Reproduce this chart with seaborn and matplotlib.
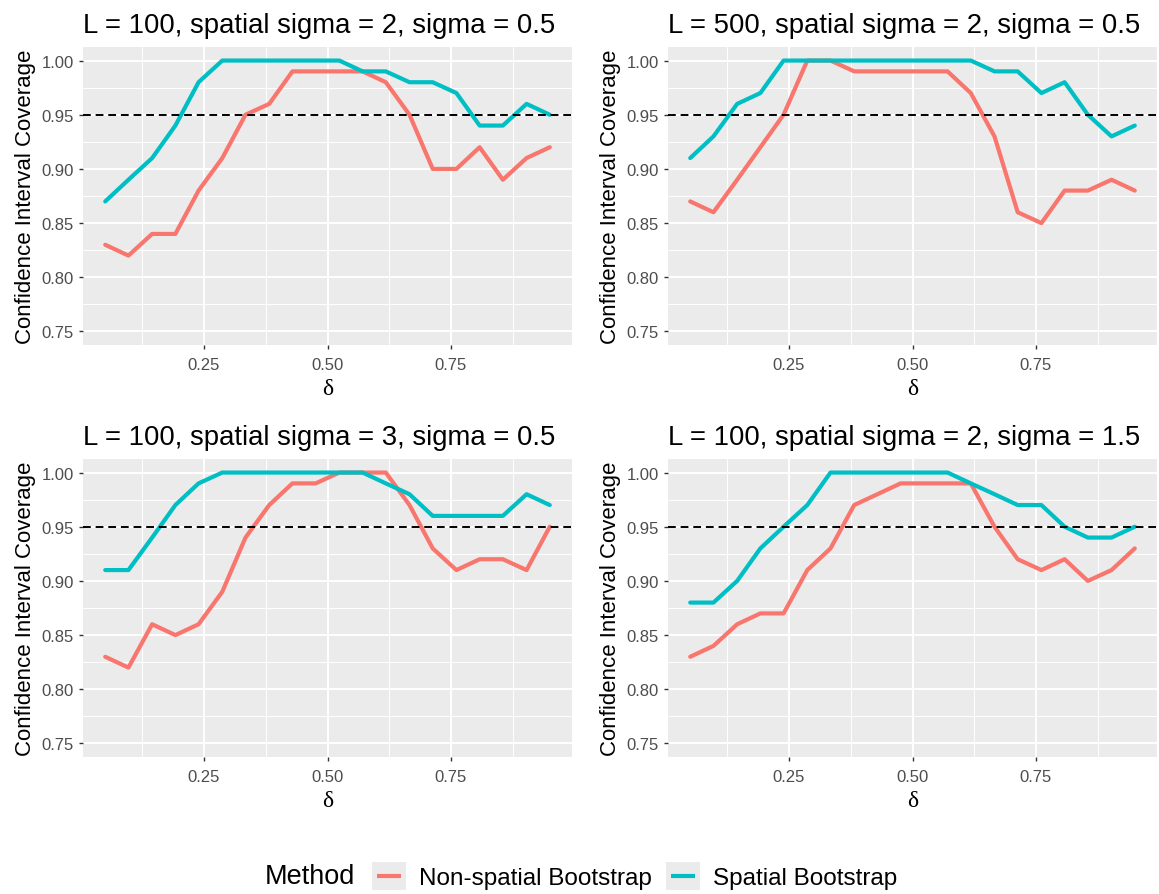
import numpy as np
import pandas as pd
import seaborn as sns
import matplotlib.pyplot as plt
from matplotlib.lines import Line2D
from matplotlib.patches import Rectangle
from matplotlib.ticker import FixedLocator

# delta grid (20 values between 0.05 and 0.95)
delta = [0.05, 0.097, 0.145, 0.192, 0.239, 0.287, 0.334, 0.382, 0.429, 0.476,
         0.524, 0.571, 0.618, 0.666, 0.713, 0.761, 0.808, 0.855, 0.903, 0.95]

titles = [
    "L = 100, spatial sigma = 2, sigma = 0.5",
    "L = 500, spatial sigma = 2, sigma = 0.5",
    "L = 100, spatial sigma = 3, sigma = 0.5",
    "L = 100, spatial sigma = 2, sigma = 1.5",
]
methods = ["Non-spatial Bootstrap", "Spatial Bootstrap"]

# coverage
nonspatial_1 = [0.83, 0.82, 0.84, 0.84, 0.88, 0.91, 0.95, 0.96, 0.99, 0.99,
                0.99, 0.99, 0.98, 0.95, 0.90, 0.90, 0.92, 0.89, 0.91, 0.92]
spatial_1 = [0.87, 0.89, 0.91, 0.94, 0.98, 1.00, 1.00, 1.00, 1.00, 1.00,
             1.00, 0.99, 0.99, 0.98, 0.98, 0.97, 0.94, 0.94, 0.96, 0.95]

nonspatial_2 = [0.87, 0.86, 0.89, 0.92, 0.95, 1.00, 1.00, 0.99, 0.99, 0.99,
                0.99, 0.99, 0.97, 0.93, 0.86, 0.85, 0.88, 0.88, 0.89, 0.88]
spatial_2 = [0.91, 0.93, 0.96, 0.97, 1.00, 1.00, 1.00, 1.00, 1.00, 1.00,
             1.00, 1.00, 1.00, 0.99, 0.99, 0.97, 0.98, 0.95, 0.93, 0.94]

nonspatial_3 = [0.83, 0.82, 0.86, 0.85, 0.86, 0.89, 0.94, 0.97, 0.99, 0.99,
                1.00, 1.00, 1.00, 0.97, 0.93, 0.91, 0.92, 0.92, 0.91, 0.95]
spatial_3 = [0.91, 0.91, 0.94, 0.97, 0.99, 1.00, 1.00, 1.00, 1.00, 1.00,
             1.00, 1.00, 0.99, 0.98, 0.96, 0.96, 0.96, 0.96, 0.98, 0.97]

nonspatial_4 = [0.83, 0.84, 0.86, 0.87, 0.87, 0.91, 0.93, 0.97, 0.98, 0.99,
                0.99, 0.99, 0.99, 0.95, 0.92, 0.91, 0.92, 0.90, 0.91, 0.93]
spatial_4 = [0.88, 0.88, 0.90, 0.93, 0.95, 0.97, 1.00, 1.00, 1.00, 1.00,
             1.00, 1.00, 0.99, 0.98, 0.97, 0.97, 0.95, 0.94, 0.94, 0.95]

series = [(nonspatial_1, spatial_1), (nonspatial_2, spatial_2),
          (nonspatial_3, spatial_3), (nonspatial_4, spatial_4)]

rows = []
for p, (ns, sp) in enumerate(series):
    for m, vals in zip(methods, (ns, sp)):
        for d, v in zip(delta, vals):
            rows.append({"panel": p, "Method": m, "delta": d, "coverage": v})
df = pd.DataFrame(rows)

palette = {"Non-spatial Bootstrap": "#F8766D", "Spatial Bootstrap": "#00BFC4"}

sns.set_style("darkgrid", {"axes.facecolor": "#EBEBEB", "grid.color": "white"})
plt.rcParams["font.family"] = ["Liberation Sans", "DejaVu Sans"]
plt.rcParams["text.color"] = "black"
plt.rcParams["axes.labelcolor"] = "black"

W, H = 1159, 895
fig = plt.figure(figsize=(W / 100, H / 100), dpi=100)

# panel boxes in pixels: left, top, right, bottom
boxes = [(83, 48, 572, 346), (668, 48, 1157, 346),
         (83, 460, 572, 758), (668, 460, 1157, 758)]

for p, (l, t, r, b) in enumerate(boxes):
    ax = fig.add_axes([l / W, 1 - b / H, (r - l) / W, (b - t) / H])
    sub = df[df["panel"] == p]
    sns.lineplot(data=sub, x="delta", y="coverage", hue="Method", palette=palette,
                 linewidth=3, legend=False, ax=ax)
    ax.axhline(0.95, color="black", linestyle=(0, (4, 2.5)), linewidth=1.4, zorder=3)
    ax.set_xlim(0.005, 0.995)
    ax.set_ylim(0.7375, 1.0125)
    ax.xaxis.set_major_locator(FixedLocator([0.25, 0.5, 0.75]))
    ax.xaxis.set_minor_locator(FixedLocator([0.125, 0.375, 0.625, 0.875]))
    ax.yaxis.set_major_locator(FixedLocator([0.75, 0.8, 0.85, 0.9, 0.95, 1.0]))
    ax.yaxis.set_minor_locator(FixedLocator([0.775, 0.825, 0.875, 0.925, 0.975]))
    ax.set_xticklabels(["0.25", "0.50", "0.75"])
    ax.set_yticklabels(["0.75", "0.80", "0.85", "0.90", "0.95", "1.00"])
    ax.grid(which="major", color="white", linewidth=1.4)
    ax.grid(which="minor", color="white", linewidth=0.7)
    ax.tick_params(which="major", length=3, width=1, color="#333333",
                   labelsize=12, labelcolor="#4D4D4D", bottom=True, left=True)
    ax.tick_params(axis="y", pad=3.5)
    ax.tick_params(axis="x", pad=6)
    ax.tick_params(which="minor", length=0)
    for s in ax.spines.values():
        s.set_visible(False)
    ax.set_title(titles[p], fontsize=19.8, pad=11, loc="left")
    ax.set_xlabel("δ", fontsize=17, family=["Liberation Serif", "DejaVu Serif"], labelpad=4)
    ax.set_ylabel("Confidence Interval Coverage", fontsize=16, labelpad=4)


class KeyHandler:
    # grey key square with a short coloured line, as in ggplot legends
    def legend_artist(self, legend, orig_handle, fontsize, handlebox):
        x0, y0 = -handlebox.xdescent, -handlebox.ydescent
        w, h = handlebox.width, handlebox.height
        tr = handlebox.get_transform()
        rect = Rectangle((x0, y0), w, h, facecolor="#EBEBEB", edgecolor="none",
                         transform=tr)
        line = Line2D([x0 + 0.15 * w, x0 + 0.85 * w], [y0 + h / 2, y0 + h / 2],
                      color=orig_handle.get_color(), linewidth=3,
                      solid_capstyle="butt", transform=tr)
        handlebox.add_artist(rect)
        handlebox.add_artist(line)
        return line


# legend at the bottom, title on the left
fig.text(265 / W, 1 - 877 / H, "Method", fontsize=19.5, va="center", ha="left")
handles = [Line2D([], [], color=palette[m]) for m in methods]
fig.legend(handles, methods, loc="center left",
           bbox_to_anchor=(372 / W, 1 - 877 / H), ncol=2, frameon=False,
           fontsize=17.5, handlelength=1.4, handleheight=1.4,
           handletextpad=0.55, columnspacing=0.55, borderpad=0, borderaxespad=0,
           handler_map={h: KeyHandler() for h in handles})

fig.savefig("out.png", dpi=100)
